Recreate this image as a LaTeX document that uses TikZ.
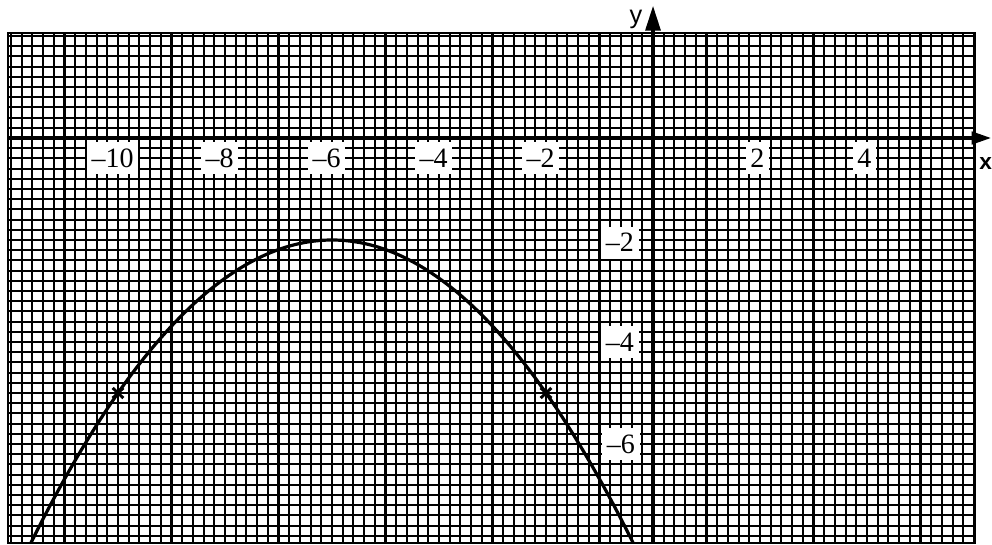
\documentclass[tikz,border=0pt]{standalone}
\usepackage{fontspec}
\setmainfont{Liberation Serif}
\newfontfamily\axisfont{Liberation Sans}
\usetikzlibrary{arrows.meta}
\begin{document}
\begin{tikzpicture}[x=40.125pt,y=38.25pt,
  minorline/.style={line width=1.6pt},
  majorline/.style={line width=2.1pt},
  axisline/.style={line width=3.2pt},
  curveline/.style={line width=2.4pt},
  ticklabel/.style={fill=white,inner sep=3.5pt,minimum height=24pt,font=\fontsize{21}{21}\selectfont},
  axislabel/.style={inner sep=0pt,font=\axisfont\fontsize{19}{19}\selectfont}]
\useasboundingbox (-12.206,-7.98) rectangle (6.336,2.706);
\begin{scope}
  \clip (-12.056,-7.94) rectangle (6.019,2.06);
  \foreach \i in {-61,...,31} \draw[minorline] (\i/5,-8.1) -- (\i/5,2.2);
  \foreach \j in {-41,...,11} \draw[minorline] (-12.2,\j/5) -- (6.1,\j/5);
  \foreach \i in {-12,...,6} \draw[majorline] (\i,-8.1) -- (\i,2.2);
  \foreach \j in {-8,...,2} \draw[majorline] (-12.2,\j) -- (6.1,\j);
  \draw[curveline] plot[domain=-11.7:-0.3,samples=120,smooth] (\x,{-2-3/16*(\x+6)*(\x+6)});
\end{scope}
\draw[majorline] (-12.056,-7.94) rectangle (6.019,2.06);
\coordinate (xstart) at (-12.056,0);
\coordinate (xend) at (6.33,0);
\coordinate (ystart) at (0,-7.94);
\coordinate (yend) at (0,2.6);
\draw[axisline,-{Triangle[length=15pt,width=9pt]}] (xstart) -- (xend);
\draw[axisline,-{Triangle[length=19pt,width=11pt]}] (ystart) -- (yend);
\node[axislabel] (ylab) at (-0.32,2.33) {y};
\node[axislabel,font=\axisfont\bfseries\fontsize{17}{17}\selectfont] (xlab) at (6.22,-0.5) {x};
% markers
\foreach \mx/\nm in {-10/ma,-2/mb} {
  \coordinate (\nm) at (\mx,-5);
  \draw[line width=2.2pt] ([shift={(-0.1,-0.1)}]\nm) -- ([shift={(0.1,0.1)}]\nm);
  \draw[line width=2.2pt] ([shift={(-0.1,0.1)}]\nm) -- ([shift={(0.1,-0.1)}]\nm);
}
% x tick labels
\node[ticklabel] (tm10) at (-10.1,-0.4) {–10};
\node[ticklabel] (tm8) at (-8.1,-0.4) {–8};
\node[ticklabel] (tm6) at (-6.1,-0.4) {–6};
\node[ticklabel] (tm4) at (-4.1,-0.4) {–4};
\node[ticklabel] (tm2) at (-2.1,-0.4) {–2};
\node[ticklabel] (tp2) at (1.95,-0.4) {2};
\node[ticklabel] (tp4) at (3.95,-0.4) {4};
% y tick labels
\node[ticklabel] (ym2) at (-0.62,-2.05) {–2};
\node[ticklabel] (ym4) at (-0.62,-4) {–4};
\node[ticklabel] (ym6) at (-0.6,-6) {–6};
\end{tikzpicture}
\end{document}
